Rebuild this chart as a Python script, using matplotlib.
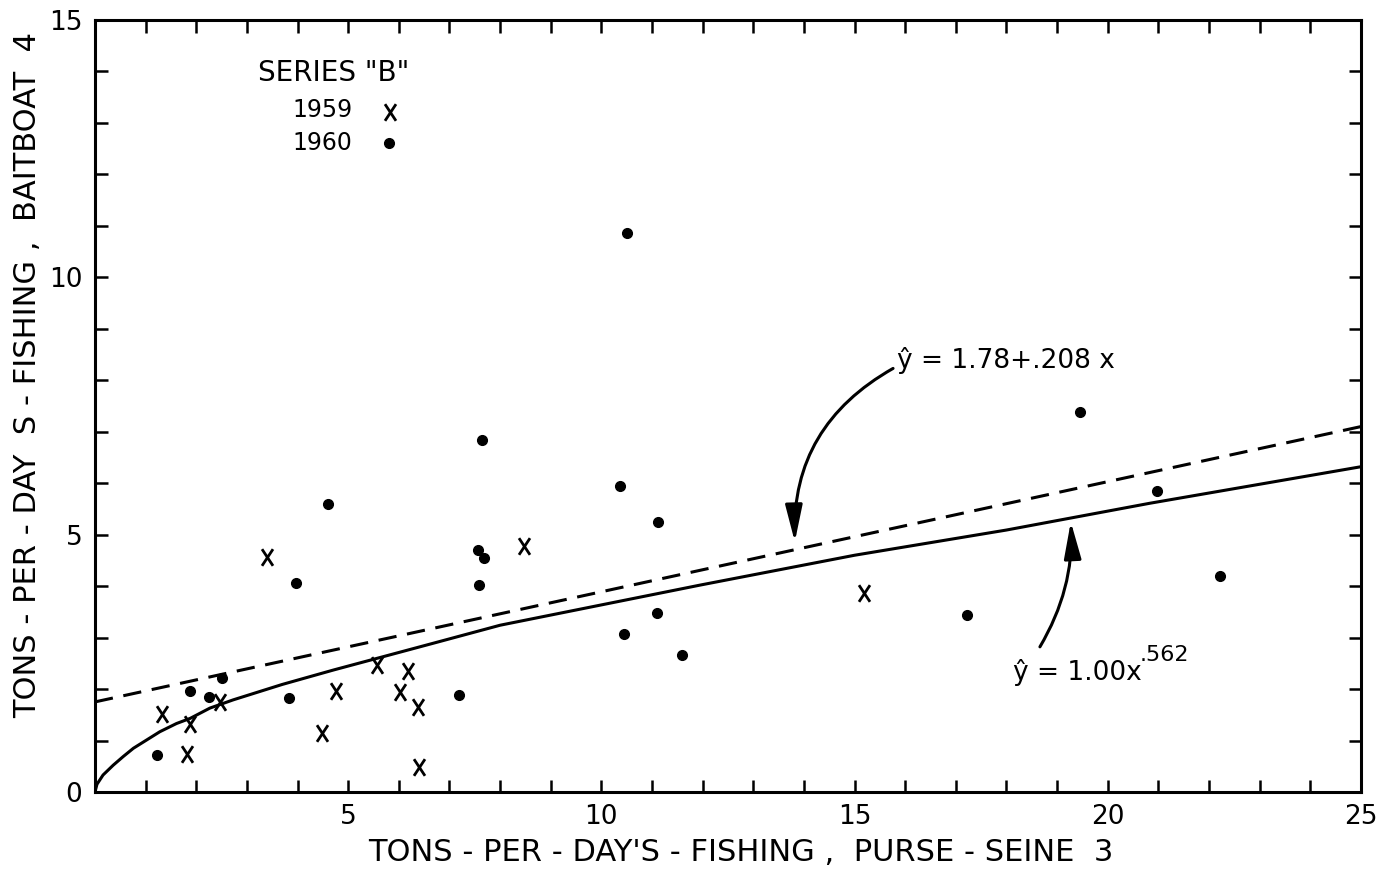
import numpy as np
import matplotlib
matplotlib.use('Agg')
import matplotlib.pyplot as plt
from matplotlib.path import Path
from matplotlib.ticker import MultipleLocator, FixedLocator

plt.rcParams['font.family'] = ['DejaVu Sans']

# 1959 catches (x marks)
x1959 = [1.32, 1.87, 1.81, 2.47, 3.40, 4.49, 4.76, 5.57, 6.02, 6.18, 6.38, 6.40, 8.48, 15.19]
y1959 = [1.51, 1.32, 0.74, 1.75, 4.57, 1.14, 1.96, 2.47, 1.95, 2.35, 1.66, 0.49, 4.77, 3.87]

# 1960 catches (dots)
x1960 = [1.22, 1.88, 2.26, 2.51, 3.83, 3.98, 4.61, 7.19, 7.56, 7.58, 7.64, 7.69,
         10.37, 10.45, 10.51, 11.10, 11.12, 11.60, 17.22, 19.45, 20.97, 22.21]
y1960 = [0.71, 1.97, 1.85, 2.21, 1.82, 4.07, 5.60, 1.89, 4.70, 4.02, 6.84, 4.54,
         5.95, 3.07, 10.86, 3.47, 5.25, 2.67, 3.43, 7.38, 5.85, 4.20]

# fitted lines
lin_x = [0, 25]
lin_y = [1.75, 7.10]
pow_x = [0, 0.04, 0.16, 0.36, 0.56, 0.76, 1.02, 1.28, 1.61, 1.88, 2.27, 2.73,
         3.7, 4.71, 6.68, 8.0, 11.95, 15.0, 18.0, 20.83, 25.0]
pow_y = [0, 0.15, 0.33, 0.52, 0.69, 0.85, 1.01, 1.17, 1.33, 1.43, 1.63, 1.79,
         2.09, 2.37, 2.89, 3.24, 4.02, 4.60, 5.09, 5.61, 6.32]

xticks = [5, 10, 15, 20, 25]
yticks = [0, 5, 10, 15]

xmark = Path([(-0.33, -0.5), (0.33, 0.5), (-0.33, 0.5), (0.33, -0.5)],
             [Path.MOVETO, Path.LINETO, Path.MOVETO, Path.LINETO])

fig = plt.figure(figsize=(13.82, 8.73), dpi=100)
ax = fig.add_axes([0.0687, 0.0928, 0.9161, 0.8843])

ax.plot(pow_x, pow_y, color='black', lw=2.2, solid_joinstyle='round')
ax.plot(lin_x, lin_y, color='black', lw=2.2, dashes=(6, 3.5))

ax.plot(x1959, y1959, linestyle='none', marker=xmark, ms=12, mec='black', mfc='none', mew=2.0)
ax.plot(x1960, y1960, linestyle='none', marker='o', ms=7, color='black')

# key
ax.text(3.22, 13.97, 'SERIES "B"', fontsize=20, va='center', ha='left')
ax.text(3.89, 13.25, '1959', fontsize=17, va='center', ha='left')
ax.text(3.89, 12.61, '1960', fontsize=17, va='center', ha='left')
ax.plot([5.83], [13.21], marker=xmark, ms=12, mec='black', mfc='none', mew=2.0)
ax.plot([5.81], [12.61], marker='o', ms=7, color='black')

# equations and arrows
ax.text(15.84, 8.39, 'ŷ = 1.78+.208 x', fontsize=19, va='center', ha='left')
ax.text(18.13, 2.33, 'ŷ = 1.00x', fontsize=19, va='center', ha='left')
ax.text(20.62, 2.66, '.562', fontsize=16, va='center', ha='left')
arrow = dict(arrowstyle='-|>,head_length=1.5,head_width=0.35', color='black',
             lw=2.2, mutation_scale=15, shrinkA=0, shrinkB=0)
ax.annotate('', xy=(13.82, 4.86), xytext=(15.76, 8.23),
            arrowprops=dict(connectionstyle='arc3,rad=0.3', **arrow))
ax.annotate('', xy=(19.27, 5.25), xytext=(18.66, 2.82),
            arrowprops=dict(connectionstyle='arc3,rad=0.15', **arrow))

ax.set_xlim(0, 25)
ax.set_ylim(0, 15)
ax.xaxis.set_major_locator(FixedLocator(xticks))
ax.yaxis.set_major_locator(FixedLocator(yticks))
ax.xaxis.set_minor_locator(MultipleLocator(1))
ax.yaxis.set_minor_locator(MultipleLocator(1))
ax.tick_params(which='both', direction='in', top=True, right=True,
               length=9, width=1.8)
ax.tick_params(which='major', labelsize=19, pad=9)
for s in ax.spines.values():
    s.set_linewidth(2.2)

ax.set_xlabel("TONS - PER - DAY'S - FISHING ,  PURSE - SEINE  3", fontsize=22, va='center')
ax.set_ylabel("TONS - PER - DAY  S - FISHING ,  BAITBOAT  4", fontsize=22, va='center')
ax.xaxis.set_label_coords(0.51, -0.078)
ax.yaxis.set_label_coords(-0.053, 0.54)

fig.savefig('out.png', dpi=100)
